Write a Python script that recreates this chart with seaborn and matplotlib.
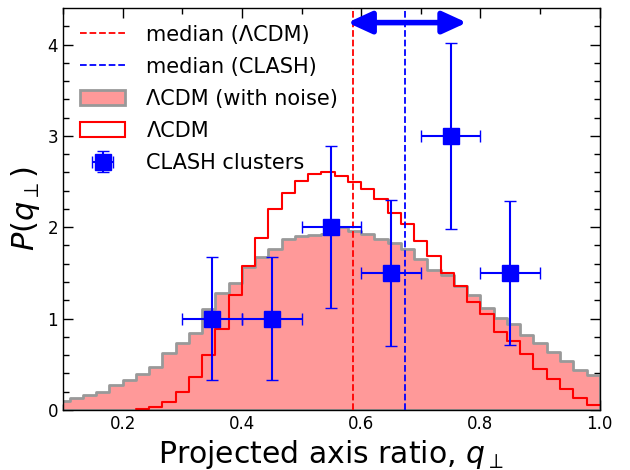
import matplotlib
matplotlib.use("Agg")
import matplotlib.pyplot as plt
import seaborn as sns
import numpy as np
import pandas as pd
from matplotlib.patches import Patch
from matplotlib.lines import Line2D

# histogram bins: width 1/45 (edges k/45)
edges = np.arange(4, 46) / 45.0
centers = 0.5 * (edges[:-1] + edges[1:])

# LCDM with noise (filled), bins 4..44
p_noise = [0.10, 0.13, 0.16, 0.195, 0.27, 0.33, 0.39, 0.47, 0.62, 0.73,
           0.84, 1.10, 1.28, 1.39, 1.56, 1.67, 1.76, 1.87, 1.90, 1.91,
           1.93, 2.00, 1.96, 1.92, 1.87, 1.83, 1.76, 1.65, 1.53, 1.48,
           1.36, 1.26, 1.11, 1.01, 0.94, 0.82, 0.73, 0.63, 0.53, 0.44,
           0.38]
# LCDM (no noise, step line), bins 10..44 (empty below)
p_lcdm = [0.01, 0.03, 0.09, 0.19,
          0.36, 0.60, 0.88, 1.26, 1.57, 1.88, 2.20, 2.37, 2.51, 2.58,
          2.60, 2.56, 2.49, 2.42, 2.31, 2.15, 2.04, 1.85, 1.68, 1.50,
          1.36, 1.18, 1.05, 0.85, 0.75, 0.61, 0.45, 0.34, 0.23, 0.13,
          0.05]

median_lcdm = 0.587
median_clash = 0.674

# CLASH clusters
q_clash = [0.35, 0.45, 0.55, 0.65, 0.75, 0.85]
p_clash = [1.0, 1.0, 2.0, 1.5, 3.0, 1.5]
q_err = [0.05, 0.05, 0.05, 0.05, 0.05, 0.05]
p_err = [0.67, 0.67, 0.89, 0.80, 1.02, 0.79]

# arrow showing shift of medians
arrow_q = (0.577, 0.777)
arrow_p = 4.24

df_noise = pd.DataFrame({"q": centers, "p": p_noise})
df_lcdm = pd.DataFrame({"q": centers[6:], "p": p_lcdm})

sns.set_style("ticks")
plt.rcParams["font.family"] = ["DejaVu Sans"]
plt.rcParams["mathtext.fontset"] = "dejavusans"
plt.rcParams["text.color"] = "black"
plt.rcParams["axes.labelcolor"] = "black"
plt.rcParams["xtick.color"] = "black"
plt.rcParams["ytick.color"] = "black"

fig, ax = plt.subplots(figsize=(6.3, 4.7), dpi=100)
fig.subplots_adjust(left=0.1, right=0.952, top=0.983, bottom=0.128)

sns.histplot(data=df_noise, x="q", weights="p", bins=list(edges),
             element="step", fill=True, color="#ff9999", alpha=1,
             edgecolor="#999999", linewidth=2, ax=ax, zorder=1)
sns.histplot(data=df_lcdm, x="q", weights="p", bins=list(edges[6:]),
             element="step", fill=False, color="red", linewidth=1.5,
             ax=ax, zorder=2)

ax.axvline(median_lcdm, color="red", ls="--", lw=1.3, zorder=3)
ax.axvline(median_clash, color="blue", ls="--", lw=1.3, zorder=3)

eb = ax.errorbar(q_clash, p_clash, xerr=q_err, yerr=p_err, fmt="s",
                 color="blue", ms=11, lw=1.5, capsize=4, capthick=1, zorder=5)

ax.annotate("", xy=(arrow_q[0], arrow_p), xytext=(arrow_q[1], arrow_p),
            arrowprops=dict(arrowstyle="<|-|>,head_length=0.72,head_width=0.33",
                            color="blue", lw=4, mutation_scale=20,
                            shrinkA=0, shrinkB=0))

ax.set_xlim(0.1, 1.0)
ax.set_ylim(0, 4.4)
ax.set_xticks([0.2, 0.4, 0.6, 0.8, 1.0])
ax.set_xticks(np.arange(0.1, 1.0, 0.1), minor=True)
ax.set_yticks([0, 1, 2, 3, 4])
ax.set_yticks(np.arange(0, 4.4, 0.2), minor=True)
ax.tick_params(which="both", direction="in", top=True, right=True,
               labelsize=12, width=1)
ax.tick_params(which="major", length=7)
ax.tick_params(which="minor", length=4)
for s in ax.spines.values():
    s.set_linewidth(1)
    s.set_color("black")

ax.set_xlabel(r"Projected axis ratio, $q_{\perp}$", fontsize=21.5)
ax.set_ylabel(r"$P(q_{\perp})$", fontsize=22)

handles = [
    Line2D([], [], color="red", ls="--", lw=1.3),
    Line2D([], [], color="blue", ls="--", lw=1.3),
    Patch(facecolor="#ff9999", edgecolor="#999999", lw=2),
    Patch(facecolor="white", edgecolor="red", lw=1.5),
    eb,
]
labels = ["median (\u039bCDM)", "median (CLASH)", "\u039bCDM (with noise)",
          "\u039bCDM", "CLASH clusters"]
ax.legend(handles, labels, loc="upper left", frameon=False, fontsize=15,
          handlelength=2.2, handletextpad=1.0, labelspacing=0.58,
          borderaxespad=0.4)

plt.savefig("out.png", dpi=100)
